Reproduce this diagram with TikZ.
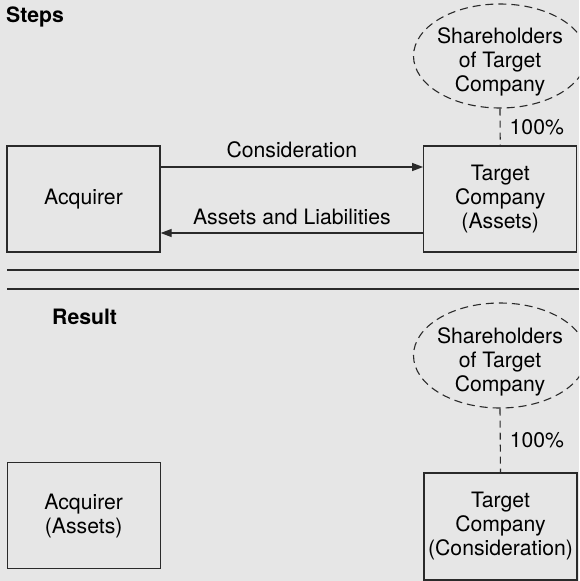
\documentclass[tikz,border=0pt]{standalone}
\usepackage{fontspec}
\setmainfont{TeX Gyre Heros}
\usetikzlibrary{shapes.geometric,arrows.meta}
\definecolor{bg}{HTML}{E6E6E6}
\definecolor{ln}{HTML}{2A2A2A}
\begin{document}
\begin{tikzpicture}[x=1pt,y=-1pt,
  every node/.style={font=\fontsize{21.2}{24}\selectfont, text=black},
  box/.style={draw=ln, line width=1.3pt, rectangle, minimum width=153pt, minimum height=106pt, inner sep=0pt, align=center},
  shell/.style={draw=ln, line width=1.1pt, dash pattern=on 8pt off 5pt, ellipse, minimum width=173pt, minimum height=104pt, inner sep=0pt},
  stxt/.style={align=center, inner sep=0pt},
  own/.style={draw=ln, line width=1.1pt, dash pattern=on 7pt off 5pt},
  arr/.style={draw=ln, line width=1.3pt, -{Triangle[length=11pt,width=8pt]}},
  sep/.style={draw=ln, line width=1.3pt},
  head/.style={font=\fontsize{21.2}{24}\selectfont\bfseries, inner sep=0pt, anchor=base west}
]
\fill[bg] (0,0) rectangle (579,581);
\clip (0,0) rectangle (579,581);

% Steps
\node[head] (steps) at (6,22) {Steps};
\node[shell] (she1) at (500,56) {};
\node[stxt] (she1t) at (500,62) {Shareholders\\of Target\\Company};
\node[box] (acq) at (83.5,199) {Acquirer};
\node[box] (tgt) at (500.25,199) {Target\\Company\\(Assets)};
\draw[own] (she1.south) -- node[right, inner sep=0pt, xshift=9pt] {100\%} (tgt.north);
\draw[arr] ([yshift=32pt]acq.east) -- node[above, inner sep=0pt, yshift=8pt] {Consideration} ([yshift=32pt]tgt.west);
\draw[arr] ([yshift=-34pt]tgt.west) -- node[above, inner sep=0pt, yshift=8pt] {Assets and Liabilities} ([yshift=-34pt]acq.east);

% separators
\coordinate (s1a) at (7,270);
\coordinate (s1b) at (579,270);
\coordinate (s2a) at (7,289);
\coordinate (s2b) at (579,289);
\draw[sep] (s1a) -- (s1b);
\draw[sep] (s2a) -- (s2b);

% Result
\node[head] (result) at (52,324) {Result};
\node[shell, minimum height=105pt] (she2) at (500,355.5) {};
\node[stxt] (she2t) at (500,361.5) {Shareholders\\of Target\\Company};
\node[box] (acq2) at (83.7,515.7) {Acquirer\\(Assets)};
\node[box, minimum height=107pt] (tgt2) at (500.5,526.5) {Target\\Company\\(Consideration)};
\draw[own] (she2.south) -- node[right, inner sep=0pt, xshift=9pt] {100\%} (tgt2.north);
\end{tikzpicture}
\end{document}
